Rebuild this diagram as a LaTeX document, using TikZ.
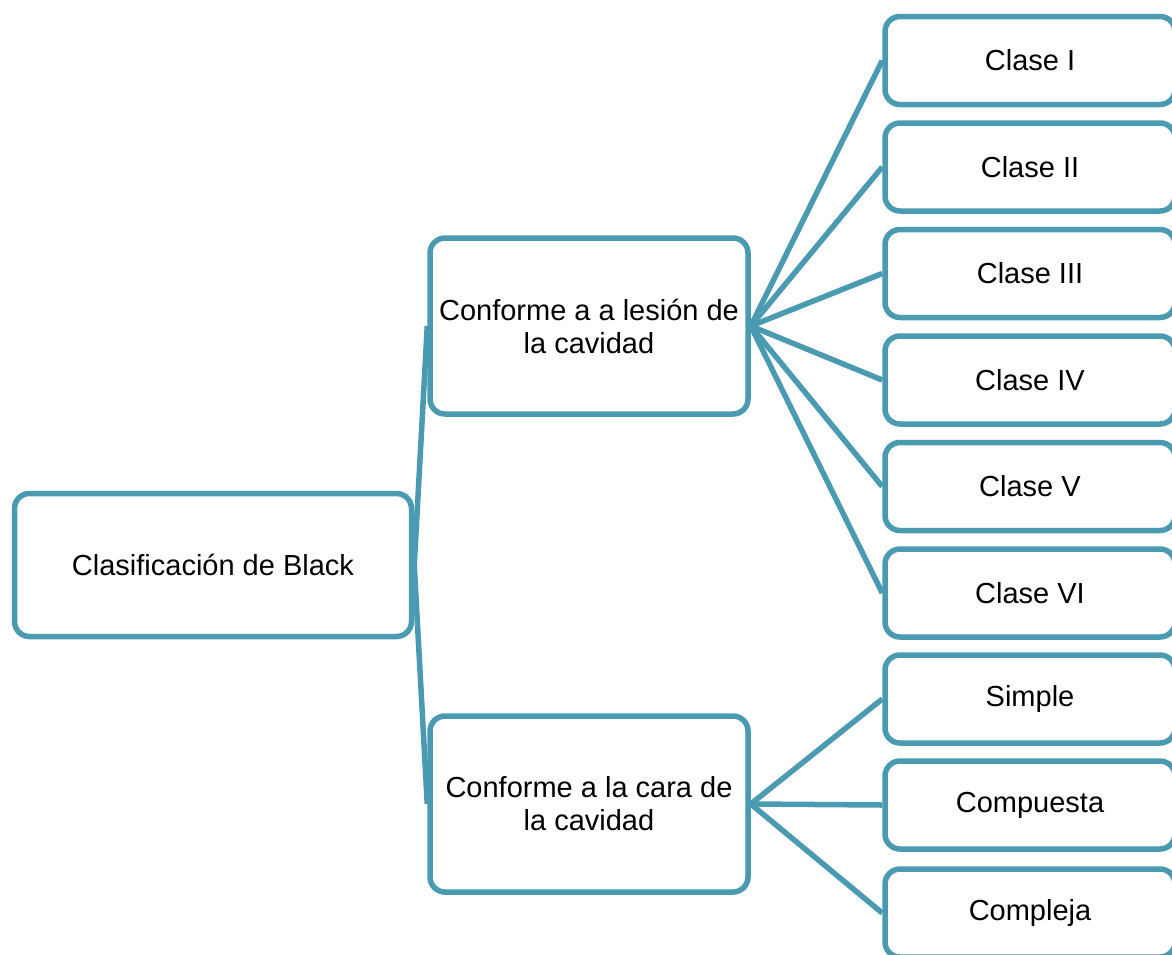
\documentclass[tikz,border=0pt]{standalone}
\usepackage{fontspec}
\setmainfont{Liberation Sans}
\definecolor{teal1}{RGB}{74,155,178}
\begin{document}
\begin{tikzpicture}[x=1pt,y=-1pt,
  box/.style={draw=teal1, line width=5.5pt, rounded corners=15pt, fill=white,
    align=center, inner sep=0pt, font=\fontsize{29}{33}\selectfont},
  leaf/.style={box, minimum width=290pt, minimum height=88pt},
  mid/.style={box, minimum width=318pt, minimum height=176pt},
  link/.style={draw=teal1, line width=5.5pt}]
\useasboundingbox (0,0) rectangle (1172,954);
\node[box, minimum width=397pt, minimum height=143pt] (root) at (213,565) {Clasificación de Black};
\node[mid] (les) at (589,326) {Conforme a a lesión de\\la cavidad};
\node[mid] (cara) at (589,804) {Conforme a la cara de\\la cavidad};
\node[leaf] (c1) at (1030,60.5) {Clase I};
\node[leaf] (c2) at (1030,167) {Clase II};
\node[leaf] (c3) at (1030,273.5) {Clase III};
\node[leaf] (c4) at (1030,380) {Clase IV};
\node[leaf] (c5) at (1030,486.5) {Clase V};
\node[leaf] (c6) at (1030,593) {Clase VI};
\node[leaf] (s1) at (1030,699) {Simple};
\node[leaf] (s2) at (1030,805) {Compuesta};
\node[leaf] (s3) at (1030,913) {Compleja};
\draw[link] (root.east) -- (les.west);
\draw[link] (root.east) -- (cara.west);
\foreach \c in {c1,c2,c3,c4,c5,c6} \draw[link] (les.east) -- (\c.west);
\foreach \c in {s1,s2,s3} \draw[link] (cara.east) -- (\c.west);
\end{tikzpicture}
\end{document}
